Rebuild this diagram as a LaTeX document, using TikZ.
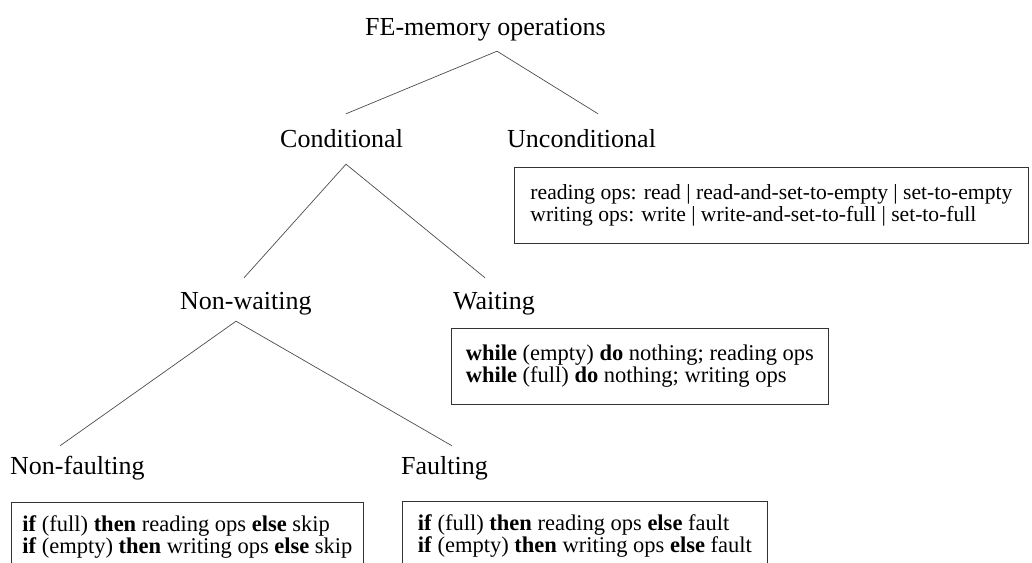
\documentclass[tikz,border=0pt]{standalone}
\usepackage{fontspec}
\setmainfont{Liberation Serif}

\begin{document}
\begin{tikzpicture}[x=1pt,y=-1pt,
lbl/.style={inner sep=0pt,anchor=base west,text height=18pt,text depth=6pt,font=\fontsize{26}{30}\selectfont},
opsbox/.style={draw=black!80,line width=.8pt,anchor=north west,align=left,inner sep=0pt,font=\fontsize{22.5}{22}\selectfont},
branch/.style={draw=black!70,line width=.7pt}]
\useasboundingbox (0,0) rectangle (1032,562);
%
\node[lbl] (fe) at (365,35) {FE-memory operations};
\node[lbl] (cond) at (280,147) {Conditional};
\node[lbl] (uncond) at (507,147) {Unconditional};
\node[lbl] (nonwait) at (180,309) {Non-waiting};
\node[lbl] (wait) at (453,309) {Waiting};
\node[lbl] (nonfault) at (10,474) {Non-faulting};
\node[lbl] (fault) at (401,474) {Faulting};
%
\node[opsbox,minimum width=514,minimum height=76,font=\fontsize{21.6}{21.5}\selectfont] (uncondops) at (514,167)
{reading ops: read | read-and-set-to-empty | set-to-empty\\writing ops: write | write-and-set-to-full | set-to-full};
\node[opsbox,minimum width=377,minimum height=76] (waitops) at (451,328)
{\textbf{while} (empty) \textbf{do} nothing; reading ops\\\textbf{while} (full) \textbf{do} nothing; writing ops};
\node[opsbox,minimum width=352,minimum height=70] (nonfaultops) at (11,502)
{\textbf{if} (full) \textbf{then} reading ops \textbf{else} skip\\\textbf{if} (empty) \textbf{then} writing ops \textbf{else} skip};
\node[opsbox,minimum width=365,minimum height=70] (faultops) at (402,501)
{\textbf{if} (full) \textbf{then} reading ops \textbf{else} fault\\\textbf{if} (empty) \textbf{then} writing ops \textbf{else} fault};
%
\draw[branch] ([shift={(66,-15)}]cond.north west) -- ([shift={(132,10)}]fe.south west) -- ([shift={(91,-15)}]uncond.north west);
\draw[branch] ([shift={(64,-13)}]nonwait.north west) -- ([shift={(66,11)}]cond.south west) -- ([shift={(32,-13)}]wait.north west);
\draw[branch] ([shift={(50,-10)}]nonfault.north west) -- ([shift={(56,6)}]nonwait.south west) -- ([shift={(51,-10)}]fault.north west);
\end{tikzpicture}
\end{document}
